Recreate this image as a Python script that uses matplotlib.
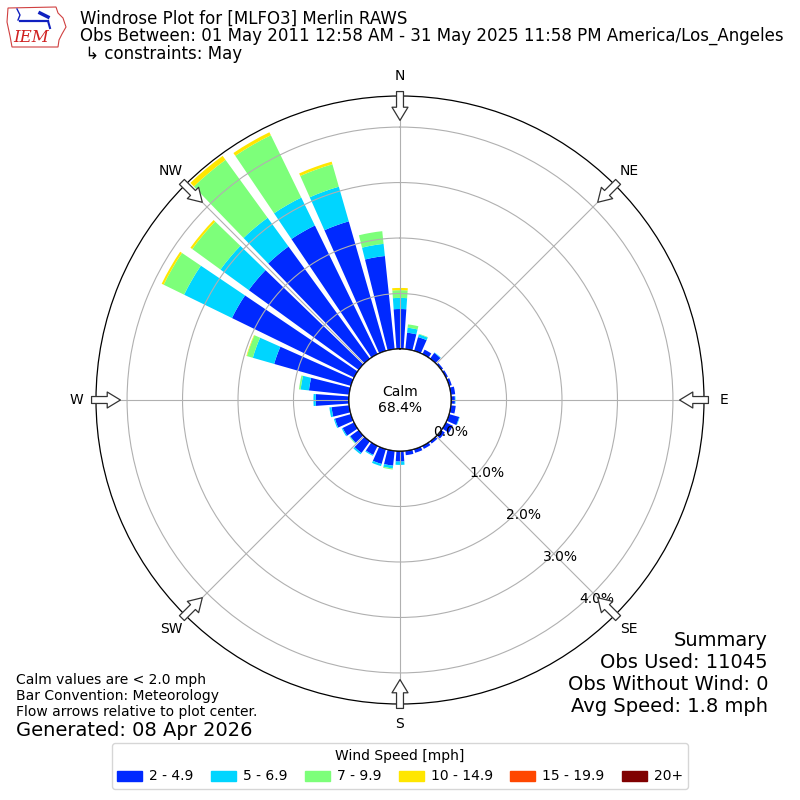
import numpy as np
import matplotlib
matplotlib.use("Agg")
import matplotlib.pyplot as plt
from matplotlib.patches import Patch, Circle, Polygon

# direction bins (degrees, meteorological) and % frequency per speed bin
directions = np.arange(0, 360, 10)
spd_2_5 = [0.72, 0.30, 0.26, 0.09, 0.13, 0.04, 0.04, 0.05, 0.08, 0.07, 0.09, 0.19,
           0.14, 0.08, 0.05, 0.06, 0.07, 0.08, 0.19, 0.27, 0.28, 0.18, 0.26, 0.19,
           0.23, 0.30, 0.32, 0.60, 0.73, 1.44, 2.45, 2.45, 2.50, 2.58, 2.43, 1.69]
spd_5_7 = [0.20, 0.09, 0.05, 0.00, 0.01, 0.00, 0.00, 0.00, 0.00, 0.01, 0.00, 0.01,
           0.00, 0.00, 0.00, 0.00, 0.00, 0.00, 0.06, 0.05, 0.04, 0.02, 0.03, 0.01,
           0.02, 0.02, 0.04, 0.04, 0.15, 0.40, 0.96, 0.63, 0.64, 0.56, 0.65, 0.22]
spd_7_10 = [0.14, 0.06, 0.01, 0.00, 0.00, 0.00, 0.00, 0.00, 0.00, 0.00, 0.00, 0.00,
            0.00, 0.00, 0.00, 0.00, 0.00, 0.00, 0.00, 0.02, 0.00, 0.00, 0.00, 0.01,
            0.00, 0.00, 0.00, 0.00, 0.03, 0.11, 0.41, 0.63, 1.29, 1.25, 0.42, 0.23]
spd_10_15 = [0.04, 0.00, 0.00, 0.00, 0.00, 0.00, 0.00, 0.00, 0.00, 0.00, 0.00, 0.00,
             0.00, 0.00, 0.00, 0.00, 0.00, 0.00, 0.00, 0.00, 0.00, 0.00, 0.00, 0.00,
             0.00, 0.00, 0.00, 0.00, 0.00, 0.01, 0.04, 0.04, 0.09, 0.06, 0.05, 0.00]
spd_15_20 = [0.0] * 36
spd_20 = [0.0] * 36
bins = [spd_2_5, spd_5_7, spd_7_10, spd_10_15, spd_15_20, spd_20]
bin_labels = ["2 - 4.9", "5 - 6.9", "7 - 9.9", "10 - 14.9", "15 - 19.9", "20+"]
calm_pct = 68.4
rticks = [0, 1, 2, 3, 4]
compass = ["N", "NE", "E", "SE", "S", "SW", "W", "NW"]

colors = plt.get_cmap("jet")(np.linspace(0, 1, 7)[1:])

fig = plt.figure(figsize=(8, 8), dpi=100)
ax = fig.add_axes([0.12, 0.12, 0.76, 0.76], projection="polar")
ax.set_theta_zero_location("N")
ax.set_theta_direction(-1)
rmax = 4.56
ax.set_ylim(0, rmax)
ax.set_rorigin(-0.92)

theta = np.radians(directions)
bottom = np.zeros(len(directions))
for vals, c in zip(bins, colors):
    vals = np.array(vals)
    ax.bar(theta, vals, width=np.radians(8), bottom=bottom, color=c,
           edgecolor="none", align="center")
    bottom += vals

ax.set_xticks(np.radians(np.arange(0, 360, 45)))
ax.set_xticklabels([])
ax.set_yticks(rticks)
ax.set_yticklabels([])
ax.grid(True, color="#b0b0b0", lw=0.8)
ax.spines["polar"].set_linewidth(0.9)

# radial labels
for t in rticks:
    ax.text(np.radians(139), t, "%.1f%%" % t, ha="left", va="bottom", fontsize=10)

# compass labels and flow arrows
for i, lab in enumerate(compass):
    ang = np.radians(i * 45)
    ax.text(ang, 4.92, lab, ha="center", va="center", fontsize=10, clip_on=False)
    ax.annotate("", xy=(ang, 4.12), xytext=(ang, 4.64), annotation_clip=False,
                arrowprops=dict(arrowstyle="simple,head_length=9.5,head_width=11.5,tail_width=5",
                                mutation_scale=1, fc="white", ec="#333333", lw=0.9,
                                shrinkA=0, shrinkB=0))

# calm circle
ax.add_patch(Circle((0.5, 0.5), 51 / 608, transform=ax.transAxes, fc="white",
                    ec="black", lw=1.0, zorder=3))
ax.text(0.5, 0.5, "Calm\n%.1f%%" % calm_pct, transform=ax.transAxes, ha="center",
        va="center", fontsize=10, zorder=4)

# header
fig.text(0.1, 0.976, "Windrose Plot for [MLFO3] Merlin RAWS", fontsize=12, va="center")
fig.text(0.1, 0.955, "Obs Between: 01 May 2011 12:58 AM - 31 May 2025 11:58 PM America/Los_Angeles",
         fontsize=12, va="center")
fig.text(0.1, 0.932, " \u21b3 constraints: May", fontsize=12, va="center")

# logo
lax = fig.add_axes([0.0, 1 - 55 / 800, 80 / 800, 55 / 800])
lax.set_xlim(0, 80)
lax.set_ylim(55, 0)
lax.axis("off")
lax.add_patch(Polygon([(8, 8), (56, 7), (58, 13), (63, 18), (66, 27), (62, 34),
                       (59, 40), (58, 47), (12, 47), (10, 36), (7, 22)],
                      closed=True, fc="white", ec="#d04040", lw=0.8))
lax.plot([20, 48], [21, 21], color="#1020c0", lw=1.6)
lax.plot([17, 20, 18], [9, 15, 20], color="#1020c0", lw=1)
lax.plot([40, 48], [13, 17], color="#1020c0", lw=2.5)
lax.plot([48, 50], [21, 28], color="#1020c0", lw=1.5)
lax.text(31, 37, "IEM", color="#d02020", fontsize=12, fontstyle="italic",
         family="DejaVu Serif", ha="center", va="center")

# footer notes
fig.text(0.02, 0.15, "Calm values are < 2.0 mph", fontsize=10, va="center")
fig.text(0.02, 0.13, "Bar Convention: Meteorology", fontsize=10, va="center")
fig.text(0.02, 0.11, "Flow arrows relative to plot center.", fontsize=10, va="center")
fig.text(0.02, 0.0875, "Generated: 08 Apr 2026", fontsize=14, va="center")

summary = ["Summary", "Obs Used: 11045", "Obs Without Wind: 0", "Avg Speed: 1.8 mph"]
for i, s in enumerate(summary):
    fig.text(0.96, 0.2 - i * 0.0275, s, fontsize=14, ha="right", va="center")

handles = [Patch(color=c) for c in colors]
fig.legend(handles, bin_labels, loc="lower center", bbox_to_anchor=(0.5, 0.005),
           ncol=6, title="Wind Speed [mph]", fontsize=10, title_fontsize=10,
           columnspacing=1.25, handlelength=1.8, handletextpad=0.5)

fig.savefig("out.png", dpi=100)
